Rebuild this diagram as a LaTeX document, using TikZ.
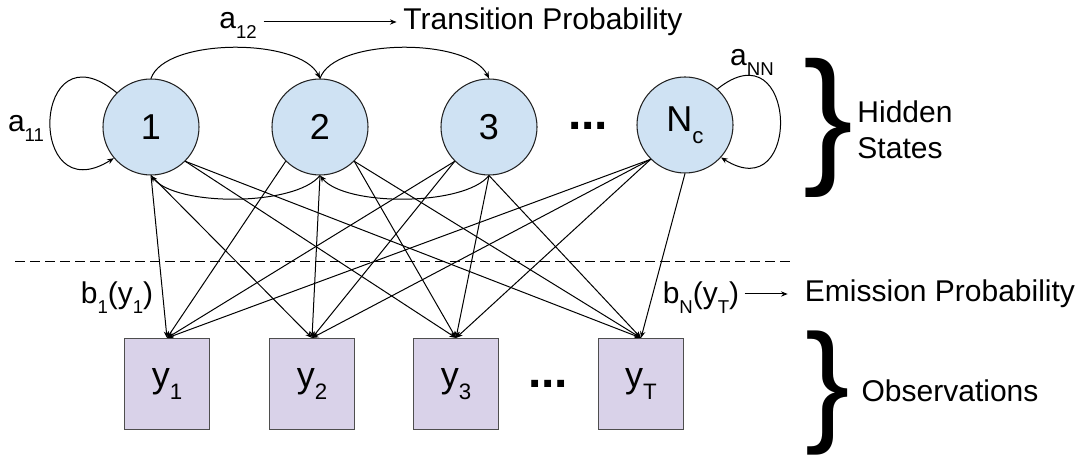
\documentclass[tikz,border=0pt]{standalone}
\usepackage{fontspec}
\setmainfont{Liberation Sans}
\usepackage{graphicx}
\usetikzlibrary{arrows.meta}
\definecolor{statefill}{HTML}{CFE2F3}
\definecolor{obsfill}{HTML}{D9D2E9}
\definecolor{edgecol}{HTML}{222222}
% lowered, smaller subscript
\newcommand{\lsub}[1]{\raisebox{-0.33em}{\scalebox{0.62}{#1}}}
\newcommand{\lblfont}{\fontsize{22.5}{27}\selectfont}
\begin{document}
\begin{tikzpicture}[x=0.75pt,y=-0.75pt,
  state/.style={circle, draw=edgecol, line width=0.8pt, fill=statefill,
    minimum size=72pt, inner sep=0pt, font=\fontsize{27}{30}\selectfont},
  obs/.style={rectangle, draw=edgecol!80, line width=0.8pt, fill=obsfill,
    minimum width=63.75pt, minimum height=68.25pt, inner sep=0pt,
    font=\fontsize{27}{30}\selectfont},
  lab/.style={inner sep=0pt, font=\lblfont},
  arr/.style={line width=0.75pt, -{Stealth[length=5pt,width=4pt]}},
  bigbrace/.style={inner sep=0pt, font=\fontsize{112}{112}\selectfont},
  smallbrace/.style={inner sep=0pt, font=\fontsize{100}{100}\selectfont},
  dotsnode/.style={inner sep=0pt, font=\fontsize{36}{36}\selectfont\bfseries}]

\useasboundingbox (0,0) rectangle (1082,459);

% hidden states
\node[state] (c1) at (151,127) {1};
\node[state] (c2) at (320,127) {2};
\node[state] (c3) at (489,127) {3};
\node[state] (cN) at (685,125) {N\lsub{c}};
\node[dotsnode] (d1) at (588,126) {...};

% observations
\node[obs] (y1) at (167,384) {y\lsub{1}};
\node[obs] (y2) at (312,384) {y\lsub{2}};
\node[obs] (y3) at (456,384) {y\lsub{3}};
\node[obs] (yT) at (641,384) {y\lsub{T}};
\node[dotsnode] (d2) at (548,384) {...};

% labels
\node[lab] (a11) at (26,128) {a\lsub{11}};
\node[lab] (a12) at (238,25) {a\lsub{12}};
\node[lab] (tp) at (543,22) {Transition Probability};
\node[lab] (aNN) at (752,62) {a\lsub{NN}};
\node[lab] (b1) at (117,298) {b\lsub{1}(y\lsub{1})};
\node[lab] (bN) at (701,298) {b\lsub{N}(y\lsub{T})};
\node[lab] (em) at (940,294) {Emission Probability};
\node[lab, align=left] (hs) at (905,130) {Hidden\\States};
\node[lab] (ob) at (950,391) {Observations};
\node[bigbrace] (br1) at (828,128) {\}};
\node[smallbrace] (br2) at (828,393) {\}};

% label arrows
\draw[arr, shorten <=5pt, shorten >=5pt] (a12.east |- tp.west) -- (tp.west);
\draw[arr, shorten <=3.75pt, shorten >=12.75pt] (bN.east |- em.west) -- (em.west);

% separator
\coordinate (dl) at (15,262);
\coordinate (dr) at (792,262);
\draw[line width=0.75pt, dash pattern=on 7.5pt off 3.75pt] (dl) -- (dr);

% transitions
\draw[arr] (c1.north) .. controls +(14,-41) and +(-20,-41) .. (c2.north);
\draw[arr] (c2.north) .. controls +(14,-41) and +(-20,-41) .. (c3.north);
\draw[arr] (c2.south) .. controls +(-25,31) and +(25,31) .. (c1.south);
\draw[arr] (c3.south) .. controls +(-25,31) and +(25,31) .. (c2.south);
\draw[arr] (c1.135) .. controls +(-85,-70) and +(-88,55) .. (c1.220);
\draw[arr] (cN.48) .. controls +(80,-64) and +(82,52) .. (cN.-42);

% emissions
\foreach \s/\t in {c1.south/y1, c1.south/y2, c1.south east/y3, c1.south east/yT,
                   c2.south west/y1, c2.south/y2, c2.south east/y3, c2.south east/yT,
                   c3.south west/y1, c3.south west/y2, c3.south/y3, c3.south/yT,
                   cN.south west/y1, cN.south west/y2, cN.south west/y3, cN.south/yT}
  \draw[arr] (\s) -- (\t.north);
\end{tikzpicture}
\end{document}
